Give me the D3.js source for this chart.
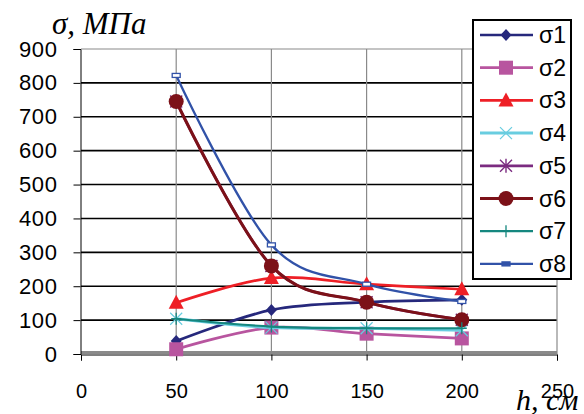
<!DOCTYPE html>
<html>
<head>
<meta charset="utf-8">
<script src="https://cdn.jsdelivr.net/npm/d3@7"></script>
<style>
  body { margin: 0; background: #fff; }
  svg { display: block; }
</style>
</head>
<body>
<div id="chart"></div>
<script>
// data
const h = [50, 100, 150, 200];
const xTicks = [0, 50, 100, 150, 200, 250];
const yTicks = [0, 100, 200, 300, 400, 500, 600, 700, 800, 900];
const names = ["σ1", "σ2", "σ3", "σ4", "σ5", "σ6", "σ7", "σ8"];
const s1 = [38, 130, 153, 160];
const s2 = [14, 78, 60, 46];
const s3 = [151, 224, 206, 191];
const s4 = [104, 78, 76, 70];
const s5 = [745, 260, 153, 101];
const s6 = [745, 260, 153, 101];
const s7 = [104, 81, 76, 76];
const s8 = [822, 322, 206, 155];
const values = [s1, s2, s3, s4, s5, s6, s7, s8];

// look of each series
const colors = ["#26287c", "#b8559f", "#ee1f26", "#69cde0", "#7b2b80", "#7c1118", "#15877f", "#3152a8"];
const widths = [2.7, 2.7, 2.7, 3, 2.7, 3, 2.2, 2.3];
const markers = ["diamond", "square", "triangle", "x", "star", "circle", "plus", "dash"];

const W = 584, H = 414;
const svg = d3.select("#chart").append("svg")
  .attr("width", W).attr("height", H);

const x = d3.scaleLinear().domain([0, 250]).range([81, 557]);
const y = d3.scaleLinear().domain([0, 900]).range([354, 49]);

// horizontal grid (black)
svg.append("g")
  .selectAll("line")
  .data(yTicks.filter(d => d > 0 && d < 900))
  .enter().append("line")
  .attr("x1", x(0)).attr("x2", x(250))
  .attr("y1", d => y(d)).attr("y2", d => y(d))
  .attr("stroke", "#000").attr("stroke-width", 1.6);

// vertical grid (gray)
svg.append("g")
  .selectAll("line")
  .data(xTicks.filter(d => d > 0))
  .enter().append("line")
  .attr("x1", d => x(d)).attr("x2", d => x(d))
  .attr("y1", y(900)).attr("y2", y(0))
  .attr("stroke", "#8a8a8a").attr("stroke-width", 1.2);

// top border + thick bottom border
svg.append("line")
  .attr("x1", x(0)).attr("x2", x(250))
  .attr("y1", y(900)).attr("y2", y(900))
  .attr("stroke", "#8a8a8a").attr("stroke-width", 1.2);
svg.append("line")
  .attr("x1", x(0)).attr("x2", x(250))
  .attr("y1", y(0) - 1.5).attr("y2", y(0) - 1.5)
  .attr("stroke", "#8a8a8a").attr("stroke-width", 3);

// axes
const yAxis = d3.axisLeft(y).tickValues(yTicks).tickSize(7).tickFormat(d3.format("d"));
const gy = svg.append("g").attr("transform", `translate(${x(0) - 0.5},0)`).call(yAxis);
gy.select(".domain").attr("stroke", "#000");
gy.selectAll(".tick line").attr("stroke", "#000");
gy.selectAll(".tick text")
  .attr("x", -23)
  .style("font-family", "'Liberation Sans', Arial, sans-serif")
  .style("font-size", "22px")
  .style("letter-spacing", "0.6px")
  .attr("fill", "#000");

const xAxis = d3.axisBottom(x).tickValues(xTicks).tickSize(6).tickFormat(d3.format("d"));
const gx = svg.append("g").attr("transform", `translate(0,${y(0) + 0.5})`).call(xAxis);
gx.select(".domain").attr("stroke", "#000").attr("stroke-width", 1);
gx.selectAll(".tick line").attr("stroke", "#000");
gx.selectAll(".tick text")
  .attr("y", 29)
  .style("font-family", "'Liberation Sans Narrow', 'Liberation Sans', Arial, sans-serif")
  .style("font-size", "20px")
  .attr("fill", "#000");

// marker shapes
function markerPath(g, type, color, legend) {
  if (type === "diamond") {
    g.append("path").attr("d", "M0,-6L5.5,0L0,6L-5.5,0Z").attr("fill", color);
  } else if (type === "square") {
    g.append("rect").attr("x", -7).attr("y", -7).attr("width", 14).attr("height", 14).attr("fill", color);
  } else if (type === "triangle") {
    g.append("path").attr("d", "M0,-8L7.5,6L-7.5,6Z").attr("fill", color);
  } else if (type === "x") {
    g.append("path").attr("d", "M-6,-6L6,6M6,-6L-6,6").attr("stroke", color).attr("stroke-width", 1.2).attr("fill", "none");
  } else if (type === "star") {
    g.append("path").attr("d", "M-6,-6L6,6M6,-6L-6,6M0,-7L0,7").attr("stroke", color).attr("stroke-width", 1.4).attr("fill", "none");
  } else if (type === "circle") {
    g.append("circle").attr("r", 7.5).attr("fill", color);
  } else if (type === "plus") {
    g.append("path").attr("d", "M0,-6L0,6M-5,0L5,0").attr("stroke", color).attr("stroke-width", 1.3).attr("fill", "none");
  } else if (type === "dash") {
    g.append("rect").attr("x", -4).attr("y", -2).attr("width", 8).attr("height", 4)
      .attr("fill", legend ? color : "#fff").attr("stroke", color).attr("stroke-width", 1.3);
  }
}

const line = d3.line()
  .x((d, i) => x(h[i]))
  .y(d => y(d))
  .curve(d3.curveCatmullRom.alpha(0));

values.forEach((vals, k) => {
  const g = svg.append("g");
  g.append("path")
    .datum(vals)
    .attr("d", line)
    .attr("fill", "none")
    .attr("stroke", colors[k])
    .attr("stroke-width", widths[k]);
  vals.forEach((v, i) => {
    const m = g.append("g").attr("transform", `translate(${x(h[i])},${y(v)})`);
    markerPath(m, markers[k], colors[k], false);
  });
});

// legend
const leg = svg.append("g");
leg.append("rect")
  .attr("x", 473).attr("y", 20).attr("width", 98).attr("height", 259)
  .attr("fill", "#fff").attr("stroke", "#000").attr("stroke-width", 2);
names.forEach((n, k) => {
  const ly = 35 + k * 32.7;
  const row = leg.append("g").attr("transform", `translate(0,${ly})`);
  row.append("line").attr("x1", 480).attr("x2", 533)
    .attr("stroke", colors[k]).attr("stroke-width", widths[k]);
  markerPath(row.append("g").attr("transform", "translate(506,0)"), markers[k], colors[k], true);
  row.append("text")
    .attr("x", 539).attr("y", 8)
    .style("font-family", "'Liberation Sans', Arial, sans-serif")
    .style("font-size", "23px")
    .attr("fill", "#000")
    .text(n);
});

// axis titles
svg.append("text")
  .attr("x", 52).attr("y", 34)
  .style("font-family", "'Liberation Serif', 'Times New Roman', serif")
  .style("font-style", "italic")
  .style("font-size", "31px")
  .text("σ, МПа");
svg.append("text")
  .attr("x", 516).attr("y", 410)
  .style("font-family", "'Liberation Serif', 'Times New Roman', serif")
  .style("font-style", "italic")
  .style("font-size", "30px")
  .text("h, см");
</script>
</body>
</html>
